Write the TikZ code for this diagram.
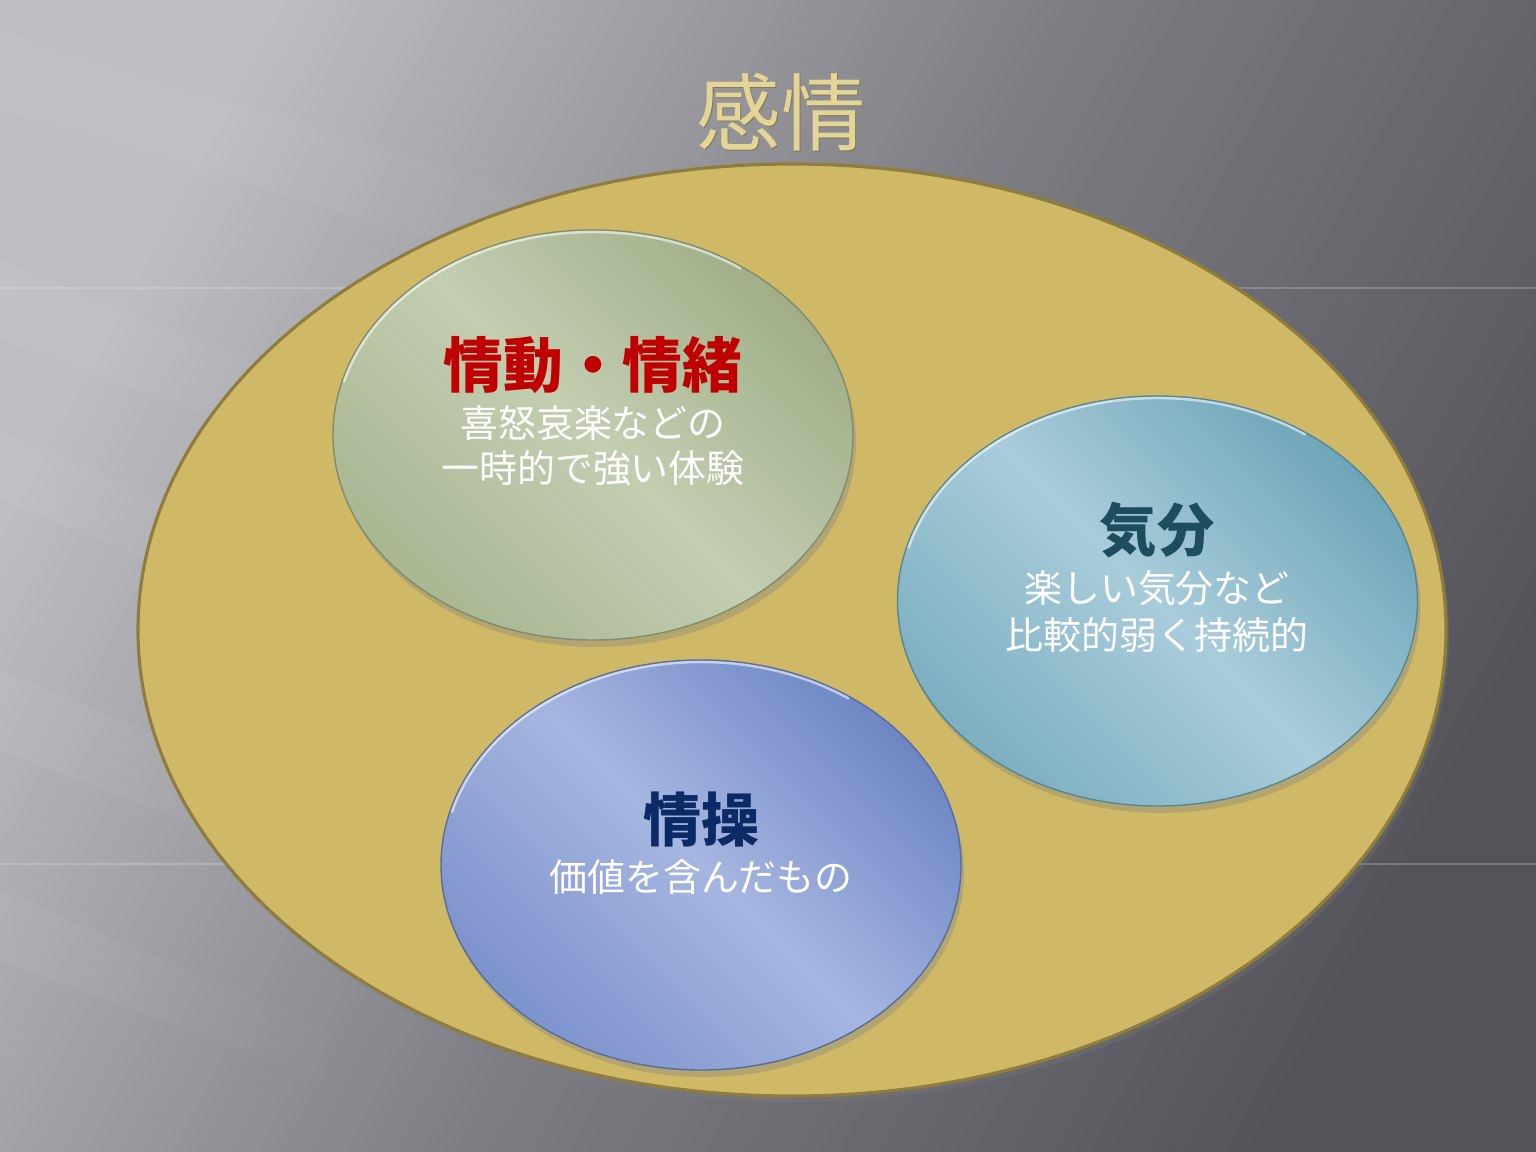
\documentclass[tikz,border=0pt]{standalone}
\usepackage{fontspec}
\newfontfamily\jp{Noto Sans CJK JP}
\usetikzlibrary{shapes.geometric,shadows,fadings}
\definecolor{bgL}{HTML}{BDBDC2}
\definecolor{bgM}{HTML}{7E7D83}
\definecolor{bgD}{HTML}{55545A}
\definecolor{goldF}{HTML}{CFB966}
\definecolor{goldE}{HTML}{8E7D3C}
\definecolor{titleC}{HTML}{E4D597}
\definecolor{titleS}{HTML}{7A6F40}
\definecolor{grD}{HTML}{A0AF88}
\definecolor{grL}{HTML}{C3CEB1}
\definecolor{cyD}{HTML}{6EA6B8}
\definecolor{cyL}{HTML}{A9CCDB}
\definecolor{blD}{HTML}{6E87C4}
\definecolor{blL}{HTML}{A6B6E1}
\definecolor{redT}{HTML}{C00000}
\definecolor{tealT}{HTML}{1E4E5E}
\definecolor{navyT}{HTML}{0C2A66}
\tikzset{
  bubble/.style={ellipse, minimum width=5.2cm, minimum height=4.1cm, inner sep=0pt,
    line width=0.4pt,
    drop shadow={opacity=0.35, shadow xshift=0.03cm, shadow yshift=-0.07cm}},
  rim/.style={white, opacity=0.55, line width=0.7pt},
  head/.style={font=\jp\bfseries\fontsize{17}{17}\selectfont, inner sep=0pt},
  sub/.style={font=\jp\fontsize{10.8}{10.8}\selectfont, text=white, inner sep=0pt},
  streak/.style={white, opacity=0.05},
  hline/.style={white, opacity=0.2, line width=0.6pt}
}
\begin{document}
\begin{tikzpicture}
\useasboundingbox (0,0) rectangle (15.36,-11.52);
% background
\shade[top color=bgL, bottom color=bgD, middle color=bgM, shading angle=62] (0,0) rectangle (15.36,-11.52);
\fill[streak, path fading=east] (0,-0.3) -- (0,-1.1) -- (9,-3.8) -- (9,-3.1) -- cycle;
\fill[streak, path fading=east] (0,-2.6) -- (0,-3.4) -- (6,-5.6) -- (6,-5.0) -- cycle;
\fill[streak, path fading=east] (0,-4.3) -- (0,-5.0) -- (5,-7.0) -- (5,-6.5) -- cycle;
\fill[streak, path fading=east] (0,-6.7) -- (0,-7.5) -- (5,-9.4) -- (5,-8.8) -- cycle;
\fill[streak, path fading=east] (0,-8.9) -- (0,-9.6) -- (4,-11.1) -- (4,-10.6) -- cycle;
\coordinate (h1a) at (0,-2.88); \coordinate (h1b) at (15.36,-2.88);
\coordinate (h2a) at (0,-8.64); \coordinate (h2b) at (15.36,-8.64);
\draw[hline] (h1a) -- (h1b);
\draw[hline] (h2a) -- (h2b);
% title
\node[font=\jp\fontsize{24}{24}\selectfont, text=titleS, inner sep=0pt, opacity=0.7] (titleshadow) at (7.82,-1.135) {感情};
\node[font=\jp\fontsize{24}{24}\selectfont, text=titleC, inner sep=0pt] (title) at (7.81,-1.12) {感情};
% outer ellipse
\node[ellipse, fill=goldF, draw=goldE, line width=0.9pt, minimum width=13.08cm, minimum height=9.32cm, inner sep=0pt,
  drop shadow={opacity=0.25, shadow xshift=0.03cm, shadow yshift=-0.06cm}] (outer) at (7.92,-6.30) {};
% inner ellipses
\node[bubble, top color=grD, bottom color=grD!75!grL, middle color=grL, shading angle=-45, draw=grD!80!black] (emo) at (5.93,-4.35) {};
\node[bubble, top color=cyD, bottom color=cyD!75!cyL, middle color=cyL, shading angle=-45, draw=cyD!80!black] (mood) at (11.575,-6.01) {};
\node[bubble, top color=blD, bottom color=blD!75!blL, middle color=blL, shading angle=-45, draw=blD!80!black] (sent) at (7.01,-8.65) {};
% rims
\draw[rim] (emo.center) ++(165:2.58cm and 2.03cm) arc[start angle=165, end angle=55, x radius=2.58cm, y radius=2.03cm];
\draw[rim] (mood.center) ++(165:2.58cm and 2.03cm) arc[start angle=165, end angle=55, x radius=2.58cm, y radius=2.03cm];
\draw[rim] (sent.center) ++(165:2.58cm and 2.03cm) arc[start angle=165, end angle=55, x radius=2.58cm, y radius=2.03cm];
% texts
\node[head, text=redT] (emoT) at (5.93,-3.65) {情動・情緒};
\node[sub] (emoS1) at (5.93,-4.23) {喜怒哀楽などの};
\node[sub] (emoS2) at (5.93,-4.68) {一時的で強い体験};
\node[head, text=tealT, font=\jp\bfseries\fontsize{16.3}{16.3}\selectfont] (moodT) at (11.57,-5.30) {気分};
\node[sub] (moodS1) at (11.57,-5.88) {楽しい気分など};
\node[sub] (moodS2) at (11.57,-6.35) {比較的弱く持続的};
\node[head, text=navyT, font=\jp\bfseries\fontsize{16.5}{16.5}\selectfont] (sentT) at (7.01,-8.20) {情操};
\node[sub] (sentS1) at (7.01,-8.77) {価値を含んだもの};
\end{tikzpicture}
\end{document}
